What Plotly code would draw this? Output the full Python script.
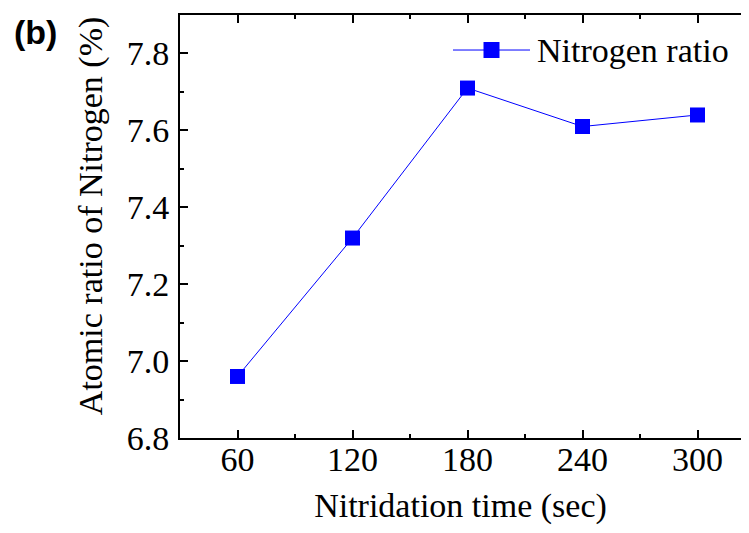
import plotly.graph_objects as go

time_sec = [60, 120, 180, 240, 300]
nitrogen_ratio = [6.96, 7.32, 7.71, 7.61, 7.64]
x_ticks = [60, 120, 180, 240, 300]
y_ticks = [6.8, 7.0, 7.2, 7.4, 7.6, 7.8]
series_name = "Nitrogen ratio"
x_title = "Nitridation time (sec)"
y_title = "Atomic ratio of Nitrogen (%)"

# page has an 8px body margin, so the figure is drawn smaller and offset
OFF = 8
W, H = 749 - 2 * OFF, 533 - 2 * OFF
PL, PT, PB = 180, 15, 437.7          # plot area edges in reference page pixels
L, T, R = PL - OFF, PT - OFF, 0
B = H - (PB - OFF)
PW, PH = W - L - R, H - T - B
serif = "Liberation Serif, Times New Roman, serif"
FS = 34
BLUE = "#0000FF"


def px(xp):
    return (xp - PL) / PW


def py(yp):
    return (PB - yp) / PH


fig = go.Figure()
fig.add_trace(go.Scatter(
    x=time_sec, y=nitrogen_ratio, mode="lines+markers",
    name=series_name, showlegend=False,
    line=dict(color=BLUE, width=1),
    marker=dict(symbol="square", size=15, color=BLUE),
))

axis_common = dict(
    showline=True, linecolor="black", linewidth=2,
    ticks="inside", ticklen=8, tickwidth=1.5, tickcolor="black",
    showgrid=False, zeroline=False, automargin=False,
    tickfont=dict(family=serif, size=FS, color="black"),
)

fig.update_layout(
    width=W, height=H,
    margin=dict(l=L, r=R, t=T, b=B),
    plot_bgcolor="white", paper_bgcolor="white",
    showlegend=False,
    xaxis=dict(range=[30, 30 + PW / 115 * 60], tickvals=x_ticks, mirror="ticks",
               ticklabelstandoff=-10,
               minor=dict(dtick=30, tick0=0, ticks="inside", ticklen=4, tickcolor="black"),
               title=dict(text=x_title, font=dict(family=serif, size=FS, color="black"), standoff=16),
               **axis_common),
    yaxis=dict(range=[6.8, 7.9], tickvals=y_ticks, tickformat=".1f", mirror=False,
               ticklabelstandoff=2,
               minor=dict(dtick=0.1, tick0=6.8, ticks="inside", ticklen=4, tickcolor="black"),
               **axis_common),
)

fig.add_annotation(text=y_title, xref="paper", yref="paper",
                   x=px(91), y=py(216), xanchor="center", yanchor="middle",
                   textangle=-90, showarrow=False,
                   font=dict(family=serif, size=FS, color="black"))

# legend drawn by hand (long line through the marker, as in the reference)
fig.add_shape(type="line", xref="paper", yref="paper",
              x0=px(453), x1=px(530), y0=py(50), y1=py(50),
              line=dict(color=BLUE, width=1))
fig.add_shape(type="rect", xref="paper", yref="paper",
              x0=px(483.5), x1=px(499.5), y0=py(58), y1=py(42),
              line=dict(width=0), fillcolor=BLUE)
fig.add_annotation(text=series_name, xref="paper", yref="paper",
                   x=px(535), y=py(50), xanchor="left", yanchor="middle",
                   showarrow=False, font=dict(family=serif, size=FS, color="black"))

fig.add_annotation(
    text="<b>(b)</b>", xref="paper", yref="paper",
    x=px(12), y=py(11), xanchor="left", yanchor="top", showarrow=False,
    font=dict(family="Liberation Sans, Arial, sans-serif", size=34, color="black"),
)

fig.write_html("out.html")
